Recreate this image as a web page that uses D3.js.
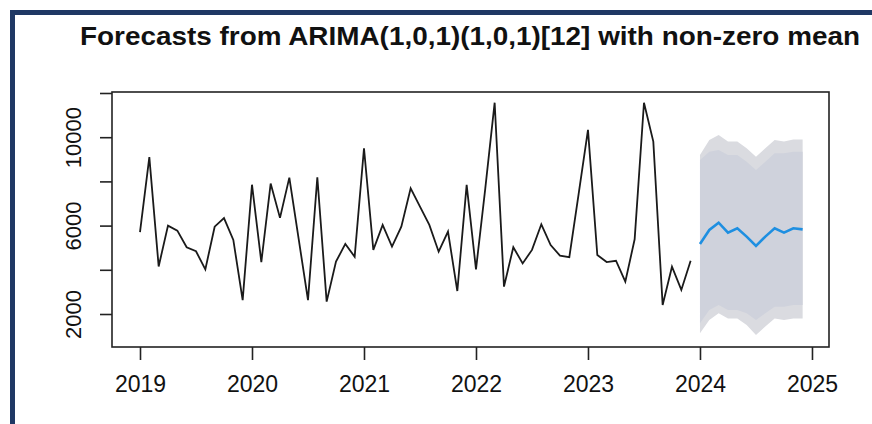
<!DOCTYPE html>
<html>
<head>
<meta charset="utf-8">
<script src="https://cdn.jsdelivr.net/npm/d3@7"></script>
<style>
    body { margin: 0; background: #fff; }
    svg { display: block; font-family: Arial, "Liberation Sans", sans-serif; }
</style>
</head>
<body>
<script>
// monthly observations, Jan 2019 .. Dec 2023
let observed = [
    5700, 9100, 4150, 6000, 5770, 5020, 4840, 4020, 5950, 6340, 5350, 2630,
    7850, 4350, 7900, 6350, 8170, 5400, 2630, 8190, 2560, 4370, 5170, 4590,
    9500, 4900, 6030, 5050, 5950, 7690, 6860, 6030, 4820, 5730, 3040, 7840,
    4020, 7700, 11560, 3240, 5020, 4290, 4900, 6060, 5120, 4640, 4570, 7440,
    10330, 4670, 4350, 4410, 3460, 5380, 11560, 9800, 2410, 4140, 3090, 4410
];
// forecast, Jan 2024 .. Dec 2024
let forecastMean = [5170, 5800, 6130, 5680, 5880, 5500, 5080, 5500, 5880, 5680, 5880, 5830];
let hi95 = [9190, 9870, 10100, 9800, 9800, 9500, 9120, 9500, 9870, 9800, 9900, 9900];
let hi80 = [8970, 9340, 9420, 9190, 9190, 8890, 8520, 8890, 9270, 9270, 9340, 9340];
let lo80 = [1580, 2180, 2410, 2180, 2180, 2030, 1730, 2030, 2330, 2330, 2410, 2410];
let lo95 = [1130, 1730, 2030, 1800, 1800, 1500, 1050, 1430, 1800, 1730, 1800, 1800];

let xTicks = [2019, 2020, 2021, 2022, 2023, 2024, 2025];
let yTicks = [2000, 4000, 6000, 8000, 10000, 12000];
let yLabels = [2000, 6000, 10000];

let startYear = 2019;
let width = 872, height = 424;

let svg = d3.select("body").append("svg")
    .attr("width", width)
    .attr("height", height);

// frame of the screenshot
svg.append("rect")
    .attr("x", 12.5).attr("y", 12.5)
    .attr("width", 900).attr("height", 500)
    .attr("fill", "none")
    .attr("stroke", "#1f3864")
    .attr("stroke-width", 5);

let x = d3.scaleLinear().domain([2018.75, 2025.152]).range([112, 829]);
let y = d3.scaleLinear().domain([507, 12045]).range([347, 92]);

let t = function(i){ return startYear + i / 12; };
let nObs = observed.length;

// prediction bands
let band = function(lo, hi){
    return d3.area()
        .x(function(d, i){ return x(t(nObs + i)); })
        .y0(function(d, i){ return y(lo[i]); })
        .y1(function(d, i){ return y(hi[i]); });
};

svg.append("path")
    .datum(hi95)
    .attr("d", band(lo95, hi95))
    .attr("fill", "#dadbe0");

svg.append("path")
    .datum(hi80)
    .attr("d", band(lo80, hi80))
    .attr("fill", "#cfd2dc");

let line = d3.line()
    .x(function(d){ return x(d[0]); })
    .y(function(d){ return y(d[1]); });

svg.append("path")
    .datum(observed.map(function(v, i){ return [t(i), v]; }))
    .attr("d", line)
    .attr("fill", "none")
    .attr("stroke", "#1a1a1a")
    .attr("stroke-width", 1.8);

svg.append("path")
    .datum(forecastMean.map(function(v, i){ return [t(nObs + i), v]; }))
    .attr("d", line)
    .attr("fill", "none")
    .attr("stroke", "#1e8fe1")
    .attr("stroke-width", 2.6);

// box
svg.append("rect")
    .attr("x", 112).attr("y", 92)
    .attr("width", 829 - 112).attr("height", 347 - 92)
    .attr("fill", "none")
    .attr("stroke", "#222")
    .attr("stroke-width", 1.6);

// axes
let xAxis = d3.axisBottom(x)
    .tickValues(xTicks)
    .tickFormat(d3.format("d"))
    .tickSize(13)
    .tickPadding(16);

let gx = svg.append("g")
    .attr("transform", "translate(0,347)")
    .call(xAxis);
gx.select(".domain").remove();
gx.selectAll("line").attr("stroke", "#222").attr("stroke-width", 1.6);
gx.selectAll("text")
    .attr("fill", "#111")
    .style("font-size", "23px");

let yAxis = d3.axisLeft(y)
    .tickValues(yTicks)
    .tickFormat(function(d){ return yLabels.includes(d) ? d : ""; })
    .tickSize(12);

let gy = svg.append("g")
    .attr("transform", "translate(112,0)")
    .call(yAxis);
gy.select(".domain").remove();
gy.selectAll("line").attr("stroke", "#222").attr("stroke-width", 1.6);
gy.selectAll("text")
    .attr("fill", "#111")
    .attr("x", null).attr("dy", null)
    .attr("text-anchor", "middle")
    .attr("transform", "translate(-31,0) rotate(-90)")
    .style("font-size", "22px");

svg.append("text")
    .attr("x", 470)
    .attr("y", 45)
    .attr("text-anchor", "middle")
    .attr("font-weight", "bold")
    .attr("fill", "#111")
    .attr("textLength", 780)
    .attr("lengthAdjust", "spacingAndGlyphs")
    .style("font-size", "25px")
    .text("Forecasts from ARIMA(1,0,1)(1,0,1)[12] with non-zero mean");
</script>
</body>
</html>
